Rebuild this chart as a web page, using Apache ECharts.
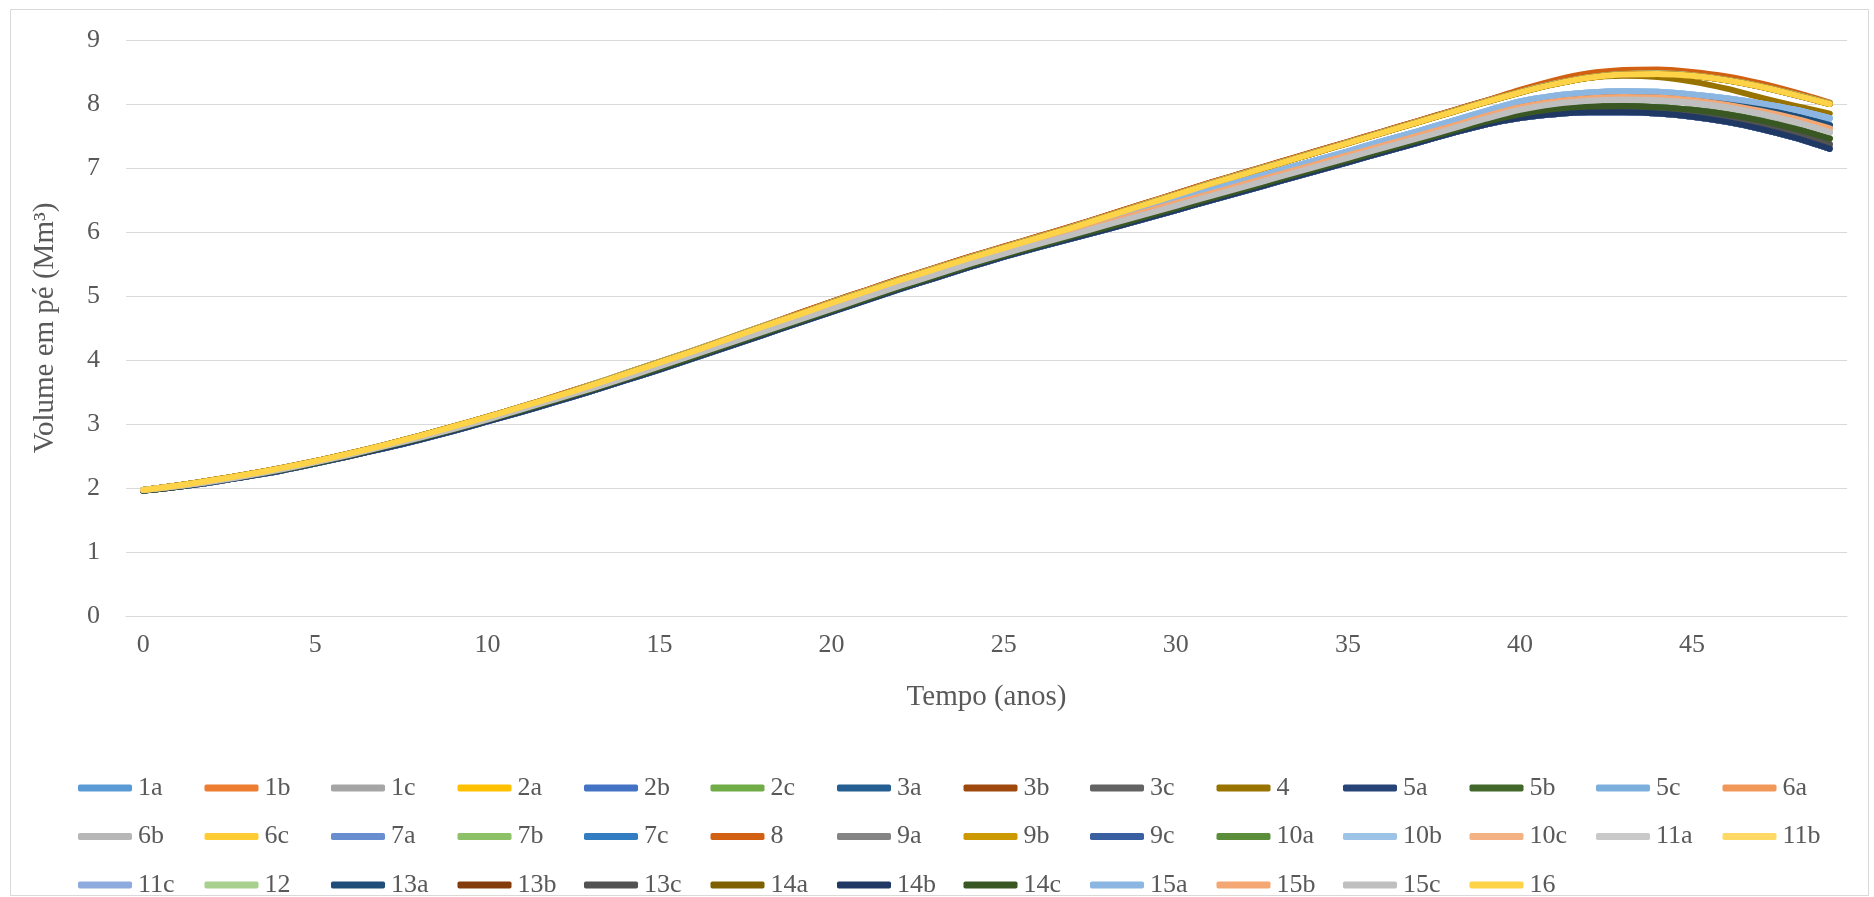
<!DOCTYPE html>
<html>
<head>
<meta charset="utf-8">
<script src="https://cdn.jsdelivr.net/npm/echarts/dist/echarts.min.js"></script>
<style>
html,body{margin:0;padding:0;background:#fff;}
#chart{width:1874px;height:897px;}
</style>
</head>
<body>
<div id="chart"></div>
<script>
const years = [0,1,2,3,4,5,6,7,8,9,10,11,12,13,14,15,16,17,18,19,20,21,22,23,24,25,26,27,28,29,30,31,32,33,34,35,36,37,38,39,40,41,42,43,44,45,46,47,48,49];
const yTicks = [0,1,2,3,4,5,6,7,8,9];
const seriesNames = ['1a','1b','1c','2a','2b','2c','3a','3b','3c','4','5a','5b','5c','6a','6b','6c','7a','7b','7c','8','9a','9b','9c','10a','10b','10c','11a','11b','11c','12','13a','13b','13c','14a','14b','14c','15a','15b','15c','16'];
const seriesColors = ['#5B9BD5','#ED7D31','#A5A5A5','#FFC000','#4472C4','#70AD47','#255E91','#9E480E','#636363','#997300','#264478','#43682B','#7CAFDD','#F1975A','#B7B7B7','#FFCD33','#698ED0','#8CC168','#327DC2','#D26012','#848484','#CC9A00','#3A5FA0','#5A8E3B','#9DC3E6','#F4B183','#C9C9C9','#FFD966','#8FAADC','#A9D18E','#1F4E79','#843C0C','#525252','#7F6000','#203864','#385723','#8CB6E2','#F4A772','#BFBFBF','#FFD347'];

const v1a = [1.97,2.03,2.11,2.20,2.30,2.41,2.53,2.66,2.80,2.94,3.09,3.25,3.41,3.58,3.75,3.93,4.11,4.29,4.47,4.66,4.84,5.02,5.20,5.37,5.54,5.70,5.86,6.02,6.18,6.34,6.50,6.66,6.81,6.96,7.11,7.26,7.42,7.57,7.73,7.88,8.03,8.12,8.17,8.19,8.18,8.14,8.08,8.00,7.90,7.77];
const v1b = [1.97,2.04,2.12,2.21,2.31,2.42,2.54,2.67,2.81,2.96,3.11,3.27,3.44,3.61,3.79,3.97,4.15,4.34,4.53,4.72,4.91,5.09,5.27,5.44,5.61,5.77,5.93,6.09,6.26,6.43,6.60,6.77,6.93,7.09,7.25,7.41,7.57,7.73,7.89,8.05,8.21,8.36,8.47,8.52,8.53,8.49,8.42,8.31,8.17,8.01];
const v1c = [1.97,2.03,2.10,2.19,2.29,2.40,2.52,2.65,2.78,2.92,3.07,3.23,3.39,3.55,3.72,3.90,4.08,4.26,4.44,4.62,4.80,4.98,5.16,5.33,5.50,5.66,5.81,5.96,6.11,6.26,6.41,6.56,6.71,6.86,7.01,7.16,7.31,7.46,7.61,7.76,7.90,7.99,8.04,8.06,8.05,8.01,7.94,7.84,7.71,7.55];
const v2a = [1.97,2.04,2.12,2.21,2.31,2.42,2.54,2.67,2.81,2.96,3.11,3.27,3.43,3.60,3.78,3.96,4.14,4.33,4.52,4.70,4.89,5.07,5.25,5.42,5.59,5.75,5.91,6.07,6.24,6.41,6.58,6.75,6.91,7.07,7.23,7.39,7.55,7.71,7.87,8.03,8.18,8.31,8.41,8.46,8.47,8.44,8.37,8.27,8.14,8.00];
const v2b = [1.96,2.02,2.09,2.18,2.27,2.38,2.50,2.62,2.75,2.89,3.04,3.19,3.35,3.51,3.68,3.85,4.03,4.21,4.39,4.57,4.75,4.93,5.11,5.28,5.45,5.61,5.76,5.90,6.04,6.19,6.34,6.49,6.64,6.79,6.94,7.09,7.24,7.39,7.54,7.68,7.78,7.84,7.87,7.87,7.85,7.80,7.72,7.61,7.47,7.30];
const v2c = [1.97,2.04,2.12,2.21,2.31,2.42,2.54,2.67,2.81,2.96,3.11,3.27,3.43,3.60,3.78,3.96,4.14,4.33,4.52,4.70,4.89,5.07,5.25,5.42,5.59,5.75,5.91,6.07,6.24,6.41,6.58,6.75,6.91,7.07,7.23,7.39,7.55,7.71,7.87,8.03,8.18,8.31,8.41,8.46,8.47,8.44,8.37,8.27,8.14,8.00];
const v3a = [1.97,2.03,2.11,2.20,2.30,2.41,2.53,2.66,2.80,2.94,3.09,3.24,3.40,3.57,3.74,3.92,4.10,4.28,4.46,4.64,4.82,5.00,5.18,5.35,5.52,5.68,5.84,6.00,6.16,6.32,6.47,6.62,6.77,6.92,7.07,7.22,7.37,7.52,7.67,7.83,7.98,8.07,8.12,8.14,8.13,8.09,8.02,7.93,7.81,7.67];
const v3b = [1.97,2.04,2.12,2.21,2.31,2.42,2.54,2.67,2.81,2.96,3.11,3.27,3.44,3.61,3.79,3.97,4.15,4.34,4.53,4.72,4.91,5.09,5.27,5.44,5.61,5.77,5.93,6.09,6.26,6.43,6.60,6.77,6.93,7.09,7.25,7.41,7.57,7.73,7.89,8.05,8.20,8.35,8.46,8.51,8.52,8.48,8.41,8.30,8.16,8.00];
const v3c = [1.96,2.02,2.10,2.18,2.28,2.39,2.50,2.63,2.76,2.90,3.05,3.20,3.36,3.52,3.69,3.86,4.04,4.22,4.40,4.58,4.76,4.94,5.12,5.29,5.46,5.62,5.77,5.91,6.05,6.20,6.35,6.50,6.65,6.80,6.95,7.10,7.25,7.40,7.55,7.69,7.80,7.87,7.90,7.91,7.89,7.84,7.77,7.66,7.53,7.37];
const v4 = [1.97,2.04,2.12,2.21,2.31,2.42,2.54,2.67,2.81,2.96,3.11,3.27,3.43,3.60,3.78,3.96,4.14,4.33,4.52,4.70,4.89,5.07,5.25,5.42,5.59,5.75,5.91,6.07,6.24,6.41,6.58,6.75,6.91,7.07,7.23,7.39,7.55,7.71,7.87,8.03,8.18,8.31,8.41,8.44,8.42,8.35,8.24,8.10,7.97,7.85];
const v5a = [1.96,2.02,2.09,2.18,2.27,2.38,2.50,2.62,2.75,2.89,3.04,3.19,3.35,3.51,3.68,3.85,4.03,4.21,4.39,4.57,4.75,4.93,5.11,5.28,5.45,5.61,5.76,5.90,6.04,6.19,6.34,6.49,6.64,6.79,6.94,7.09,7.24,7.39,7.54,7.68,7.78,7.84,7.87,7.87,7.85,7.80,7.72,7.61,7.47,7.31];
const v5b = [1.96,2.02,2.10,2.19,2.28,2.39,2.51,2.64,2.77,2.91,3.06,3.21,3.37,3.53,3.70,3.87,4.05,4.23,4.41,4.59,4.77,4.95,5.13,5.30,5.47,5.63,5.78,5.93,6.07,6.22,6.37,6.52,6.67,6.82,6.97,7.12,7.27,7.42,7.57,7.72,7.84,7.92,7.96,7.97,7.95,7.91,7.84,7.74,7.61,7.46];
const v5c = [1.97,2.03,2.11,2.20,2.30,2.41,2.53,2.66,2.80,2.94,3.09,3.25,3.41,3.58,3.75,3.93,4.11,4.29,4.47,4.66,4.84,5.02,5.20,5.37,5.54,5.70,5.86,6.02,6.18,6.34,6.50,6.66,6.81,6.96,7.11,7.26,7.42,7.57,7.73,7.89,8.04,8.13,8.18,8.20,8.19,8.15,8.09,8.01,7.91,7.78];
const v6a = [1.97,2.03,2.11,2.20,2.30,2.41,2.53,2.66,2.79,2.93,3.08,3.24,3.40,3.56,3.73,3.91,4.09,4.27,4.45,4.63,4.81,4.99,5.17,5.34,5.51,5.67,5.83,5.99,6.14,6.30,6.45,6.60,6.75,6.90,7.05,7.20,7.35,7.50,7.65,7.81,7.95,8.04,8.09,8.11,8.10,8.06,7.99,7.89,7.77,7.62];
const v6b = [1.97,2.03,2.10,2.19,2.29,2.40,2.52,2.65,2.78,2.92,3.07,3.23,3.39,3.55,3.72,3.90,4.08,4.26,4.44,4.62,4.80,4.98,5.16,5.33,5.50,5.66,5.81,5.96,6.11,6.26,6.41,6.56,6.71,6.86,7.01,7.16,7.31,7.46,7.61,7.77,7.91,8.00,8.05,8.07,8.06,8.02,7.95,7.85,7.72,7.56];
const v6c = [1.97,2.04,2.12,2.21,2.31,2.42,2.54,2.67,2.81,2.96,3.11,3.27,3.43,3.60,3.78,3.96,4.14,4.33,4.52,4.70,4.89,5.07,5.25,5.42,5.59,5.75,5.91,6.07,6.24,6.41,6.58,6.75,6.91,7.07,7.23,7.39,7.55,7.71,7.87,8.03,8.18,8.31,8.41,8.46,8.47,8.44,8.37,8.27,8.14,8.00];
const v7a = [1.96,2.02,2.09,2.18,2.27,2.38,2.50,2.62,2.75,2.89,3.04,3.19,3.35,3.51,3.68,3.85,4.03,4.21,4.39,4.57,4.75,4.93,5.11,5.28,5.45,5.61,5.76,5.90,6.04,6.19,6.34,6.49,6.64,6.79,6.94,7.09,7.24,7.39,7.54,7.68,7.78,7.84,7.87,7.87,7.85,7.80,7.72,7.61,7.47,7.30];
const v7b = [1.97,2.04,2.12,2.21,2.31,2.42,2.54,2.67,2.81,2.96,3.11,3.27,3.43,3.60,3.78,3.96,4.14,4.33,4.52,4.70,4.89,5.07,5.25,5.42,5.59,5.75,5.91,6.07,6.24,6.41,6.58,6.75,6.91,7.07,7.23,7.39,7.55,7.71,7.87,8.03,8.18,8.31,8.41,8.46,8.47,8.44,8.37,8.27,8.14,8.00];
const v7c = [1.97,2.03,2.11,2.20,2.30,2.41,2.53,2.66,2.80,2.94,3.09,3.24,3.40,3.57,3.74,3.92,4.10,4.28,4.46,4.64,4.82,5.00,5.18,5.35,5.52,5.68,5.84,6.00,6.16,6.32,6.47,6.62,6.77,6.92,7.07,7.22,7.37,7.52,7.67,7.83,7.98,8.07,8.12,8.14,8.13,8.09,8.02,7.93,7.81,7.67];
const v8 = [1.97,2.04,2.12,2.21,2.31,2.42,2.54,2.67,2.81,2.96,3.11,3.27,3.44,3.61,3.79,3.97,4.15,4.34,4.53,4.72,4.91,5.09,5.27,5.44,5.61,5.77,5.93,6.09,6.26,6.43,6.60,6.77,6.93,7.09,7.25,7.41,7.57,7.73,7.89,8.05,8.22,8.37,8.48,8.53,8.54,8.50,8.43,8.32,8.18,8.02];
const v9a = [1.96,2.02,2.10,2.18,2.28,2.39,2.50,2.63,2.76,2.90,3.05,3.20,3.36,3.52,3.69,3.86,4.04,4.22,4.40,4.58,4.76,4.94,5.12,5.29,5.46,5.62,5.77,5.91,6.05,6.20,6.35,6.50,6.65,6.80,6.95,7.10,7.25,7.40,7.55,7.69,7.80,7.87,7.90,7.91,7.89,7.84,7.77,7.66,7.53,7.37];
const v9b = [1.97,2.04,2.12,2.21,2.31,2.42,2.54,2.67,2.81,2.96,3.11,3.27,3.43,3.60,3.78,3.96,4.14,4.33,4.52,4.70,4.89,5.07,5.25,5.42,5.59,5.75,5.91,6.07,6.24,6.41,6.58,6.75,6.91,7.07,7.23,7.39,7.55,7.71,7.87,8.03,8.18,8.31,8.41,8.46,8.47,8.44,8.37,8.27,8.14,8.00];
const v9c = [1.96,2.02,2.09,2.18,2.27,2.38,2.50,2.62,2.75,2.89,3.04,3.19,3.35,3.51,3.68,3.85,4.03,4.21,4.39,4.57,4.75,4.93,5.11,5.28,5.45,5.61,5.76,5.90,6.04,6.19,6.34,6.49,6.64,6.79,6.94,7.09,7.24,7.39,7.54,7.68,7.78,7.84,7.87,7.87,7.85,7.80,7.72,7.61,7.47,7.30];
const v10a = [1.96,2.02,2.10,2.19,2.28,2.39,2.51,2.64,2.77,2.91,3.06,3.21,3.37,3.53,3.70,3.87,4.05,4.23,4.41,4.59,4.77,4.95,5.13,5.30,5.47,5.63,5.78,5.93,6.07,6.22,6.37,6.52,6.67,6.82,6.97,7.12,7.27,7.42,7.57,7.72,7.84,7.92,7.96,7.97,7.95,7.91,7.84,7.74,7.61,7.46];
const v10b = [1.97,2.03,2.11,2.20,2.30,2.41,2.53,2.66,2.80,2.94,3.09,3.25,3.41,3.58,3.75,3.93,4.11,4.29,4.47,4.66,4.84,5.02,5.20,5.37,5.54,5.70,5.86,6.02,6.18,6.34,6.50,6.66,6.81,6.96,7.11,7.26,7.42,7.57,7.73,7.89,8.04,8.13,8.18,8.20,8.19,8.15,8.09,8.01,7.91,7.78];
const v10c = [1.97,2.03,2.11,2.20,2.30,2.41,2.53,2.66,2.79,2.93,3.08,3.24,3.40,3.56,3.73,3.91,4.09,4.27,4.45,4.63,4.81,4.99,5.17,5.34,5.51,5.67,5.83,5.99,6.14,6.30,6.45,6.60,6.75,6.90,7.05,7.20,7.35,7.50,7.65,7.81,7.95,8.04,8.09,8.11,8.10,8.06,7.99,7.89,7.77,7.62];
const v11a = [1.97,2.03,2.10,2.19,2.29,2.40,2.52,2.65,2.78,2.92,3.07,3.23,3.39,3.55,3.72,3.90,4.08,4.26,4.44,4.62,4.80,4.98,5.16,5.33,5.50,5.66,5.81,5.96,6.11,6.26,6.41,6.56,6.71,6.86,7.01,7.16,7.31,7.46,7.61,7.77,7.91,8.00,8.05,8.07,8.06,8.02,7.95,7.85,7.72,7.56];
const v11b = [1.97,2.04,2.12,2.21,2.31,2.42,2.54,2.67,2.81,2.96,3.11,3.27,3.43,3.60,3.78,3.96,4.14,4.33,4.52,4.70,4.89,5.07,5.25,5.42,5.59,5.75,5.91,6.07,6.24,6.41,6.58,6.75,6.91,7.07,7.23,7.39,7.55,7.71,7.87,8.03,8.18,8.31,8.41,8.46,8.47,8.44,8.37,8.27,8.14,8.00];
const v11c = [1.96,2.02,2.09,2.18,2.27,2.38,2.50,2.62,2.75,2.89,3.04,3.19,3.35,3.51,3.68,3.85,4.03,4.21,4.39,4.57,4.75,4.93,5.11,5.28,5.45,5.61,5.76,5.90,6.04,6.19,6.34,6.49,6.64,6.79,6.94,7.09,7.24,7.39,7.54,7.68,7.78,7.84,7.87,7.87,7.85,7.80,7.72,7.61,7.47,7.30];
const v12 = [1.97,2.04,2.12,2.21,2.31,2.42,2.54,2.67,2.81,2.96,3.11,3.27,3.43,3.61,3.79,3.97,4.15,4.34,4.53,4.71,4.90,5.08,5.26,5.43,5.60,5.76,5.92,6.08,6.25,6.42,6.59,6.76,6.92,7.08,7.24,7.40,7.56,7.72,7.88,8.04,8.19,8.32,8.42,8.47,8.48,8.45,8.38,8.28,8.15,8.01];
const v13a = [1.97,2.03,2.11,2.20,2.30,2.41,2.53,2.66,2.80,2.94,3.09,3.24,3.40,3.57,3.74,3.92,4.10,4.28,4.46,4.64,4.82,5.00,5.18,5.35,5.52,5.68,5.84,6.00,6.16,6.32,6.47,6.62,6.77,6.92,7.07,7.22,7.37,7.52,7.67,7.83,7.98,8.07,8.12,8.14,8.13,8.09,8.02,7.93,7.81,7.67];
const v13b = [1.97,2.04,2.12,2.21,2.31,2.42,2.54,2.67,2.81,2.96,3.11,3.27,3.43,3.60,3.78,3.96,4.14,4.33,4.52,4.70,4.89,5.07,5.25,5.42,5.59,5.75,5.91,6.07,6.24,6.41,6.58,6.75,6.91,7.07,7.23,7.39,7.55,7.71,7.87,8.03,8.18,8.31,8.41,8.46,8.47,8.44,8.37,8.27,8.14,8.00];
const v13c = [1.96,2.02,2.10,2.18,2.28,2.39,2.50,2.63,2.76,2.90,3.05,3.20,3.36,3.52,3.69,3.86,4.04,4.22,4.40,4.58,4.76,4.94,5.12,5.29,5.46,5.62,5.77,5.91,6.05,6.20,6.35,6.50,6.65,6.80,6.95,7.10,7.25,7.40,7.55,7.69,7.80,7.87,7.90,7.91,7.89,7.84,7.77,7.66,7.53,7.37];
const v14a = [1.97,2.04,2.12,2.21,2.31,2.42,2.54,2.67,2.81,2.96,3.11,3.27,3.43,3.60,3.78,3.96,4.14,4.33,4.52,4.70,4.89,5.07,5.25,5.42,5.59,5.75,5.91,6.07,6.24,6.41,6.58,6.75,6.91,7.07,7.23,7.39,7.55,7.71,7.87,8.03,8.18,8.31,8.41,8.46,8.47,8.44,8.37,8.27,8.14,8.00];
const v14b = [1.96,2.02,2.09,2.18,2.27,2.38,2.50,2.62,2.75,2.89,3.04,3.19,3.35,3.51,3.68,3.85,4.03,4.21,4.39,4.57,4.75,4.93,5.11,5.28,5.45,5.61,5.76,5.90,6.04,6.19,6.34,6.49,6.64,6.79,6.94,7.09,7.24,7.39,7.54,7.68,7.78,7.84,7.87,7.87,7.85,7.80,7.72,7.61,7.47,7.30];
const v14c = [1.96,2.02,2.10,2.19,2.28,2.39,2.51,2.64,2.77,2.91,3.06,3.21,3.37,3.53,3.70,3.87,4.05,4.23,4.41,4.59,4.77,4.95,5.13,5.30,5.47,5.63,5.78,5.93,6.07,6.22,6.37,6.52,6.67,6.82,6.97,7.12,7.27,7.42,7.57,7.72,7.84,7.92,7.96,7.97,7.95,7.91,7.84,7.74,7.61,7.46];
const v15a = [1.97,2.03,2.11,2.20,2.30,2.41,2.53,2.66,2.80,2.94,3.09,3.25,3.41,3.58,3.75,3.93,4.11,4.29,4.47,4.66,4.84,5.02,5.20,5.37,5.54,5.70,5.86,6.02,6.18,6.34,6.50,6.66,6.81,6.96,7.11,7.26,7.42,7.57,7.73,7.89,8.04,8.13,8.18,8.20,8.19,8.15,8.09,8.01,7.91,7.78];
const v15b = [1.97,2.03,2.11,2.20,2.30,2.41,2.53,2.66,2.79,2.93,3.08,3.24,3.40,3.56,3.73,3.91,4.09,4.27,4.45,4.63,4.81,4.99,5.17,5.34,5.51,5.67,5.83,5.99,6.14,6.30,6.45,6.60,6.75,6.90,7.05,7.20,7.35,7.50,7.65,7.81,7.95,8.04,8.09,8.11,8.10,8.06,7.99,7.89,7.77,7.62];
const v15c = [1.97,2.03,2.10,2.19,2.29,2.40,2.52,2.65,2.78,2.92,3.07,3.23,3.39,3.55,3.72,3.90,4.08,4.26,4.44,4.62,4.80,4.98,5.16,5.33,5.50,5.66,5.81,5.96,6.11,6.26,6.41,6.56,6.71,6.86,7.01,7.16,7.31,7.46,7.61,7.77,7.91,8.00,8.05,8.07,8.06,8.02,7.95,7.85,7.72,7.56];
const v16 = [1.97,2.04,2.12,2.21,2.31,2.42,2.54,2.67,2.81,2.96,3.11,3.27,3.43,3.60,3.78,3.96,4.14,4.33,4.52,4.70,4.89,5.07,5.25,5.42,5.59,5.75,5.91,6.07,6.24,6.41,6.58,6.75,6.91,7.07,7.23,7.39,7.55,7.71,7.87,8.03,8.18,8.31,8.41,8.46,8.47,8.44,8.37,8.27,8.14,8.00];

const seriesValues = [v1a,v1b,v1c,v2a,v2b,v2c,v3a,v3b,v3c,v4,v5a,v5b,v5c,v6a,v6b,v6c,v7a,v7b,v7c,v8,v9a,v9b,v9c,v10a,v10b,v10c,v11a,v11b,v11c,v12,v13a,v13b,v13c,v14a,v14b,v14c,v15a,v15b,v15c,v16];

const FONT = "'Liberation Serif', 'DejaVu Serif', serif";
const TXT = '#595959';

const chart = echarts.init(document.getElementById('chart'), null, {renderer: 'canvas'});
chart.setOption({
  animation: false,
  backgroundColor: '#ffffff',
  graphic: [{
    type: 'rect', left: 8, top: 7, z: -10,
    shape: {width: 1858, height: 886},
    style: {fill: 'none', stroke: '#d9d9d9', lineWidth: 1}
  }],
  grid: {left: 126, right: 27, top: 40, bottom: 281, containLabel: false},
  xAxis: {
    type: 'category',
    data: years,
    boundaryGap: true,
    name: 'Tempo (anos)',
    nameLocation: 'middle',
    nameGap: 67,
    nameTextStyle: {fontFamily: FONT, fontSize: 29, color: TXT},
    axisLine: {show: true, lineStyle: {color: '#d9d9d9', width: 1}},
    axisTick: {show: false},
    axisLabel: {interval: 4, fontFamily: FONT, fontSize: 26, color: TXT, margin: 16},
    splitLine: {show: false}
  },
  yAxis: {
    type: 'value',
    min: 0, max: 9, interval: 1,
    name: 'Volume em pé (Mm³)',
    nameLocation: 'middle',
    nameGap: 66,
    nameRotate: 90,
    nameTextStyle: {fontFamily: FONT, fontSize: 29, color: TXT},
    axisLine: {show: false},
    axisTick: {show: false},
    axisLabel: {fontFamily: FONT, fontSize: 26, color: TXT, margin: 26,
      formatter: function (v) { return yTicks.indexOf(v) >= 0 ? String(v) : ''; }},
    splitLine: {show: true, lineStyle: {color: '#d9d9d9', width: 1}}
  },
  legend: {
    left: 78, top: 775, width: 1760,
    padding: 0,
    itemWidth: 54, itemHeight: 7,
    itemGap: 22.5,
    icon: 'roundRect',
    textStyle: {fontFamily: FONT, fontSize: 26, color: TXT, width: 44, lineHeight: 23, padding: [0,0,0,1]},
    data: seriesNames
  },
  series: seriesNames.map(function (n, i) {
    return {
      name: n,
      type: 'line',
      data: seriesValues[i],
      smooth: 0.3,
      symbol: 'none',
      color: seriesColors[i],
      lineStyle: {width: 6, color: seriesColors[i], cap: 'round', join: 'round'},
      emphasis: {disabled: true}
    };
  })
});
</script>
</body>
</html>
